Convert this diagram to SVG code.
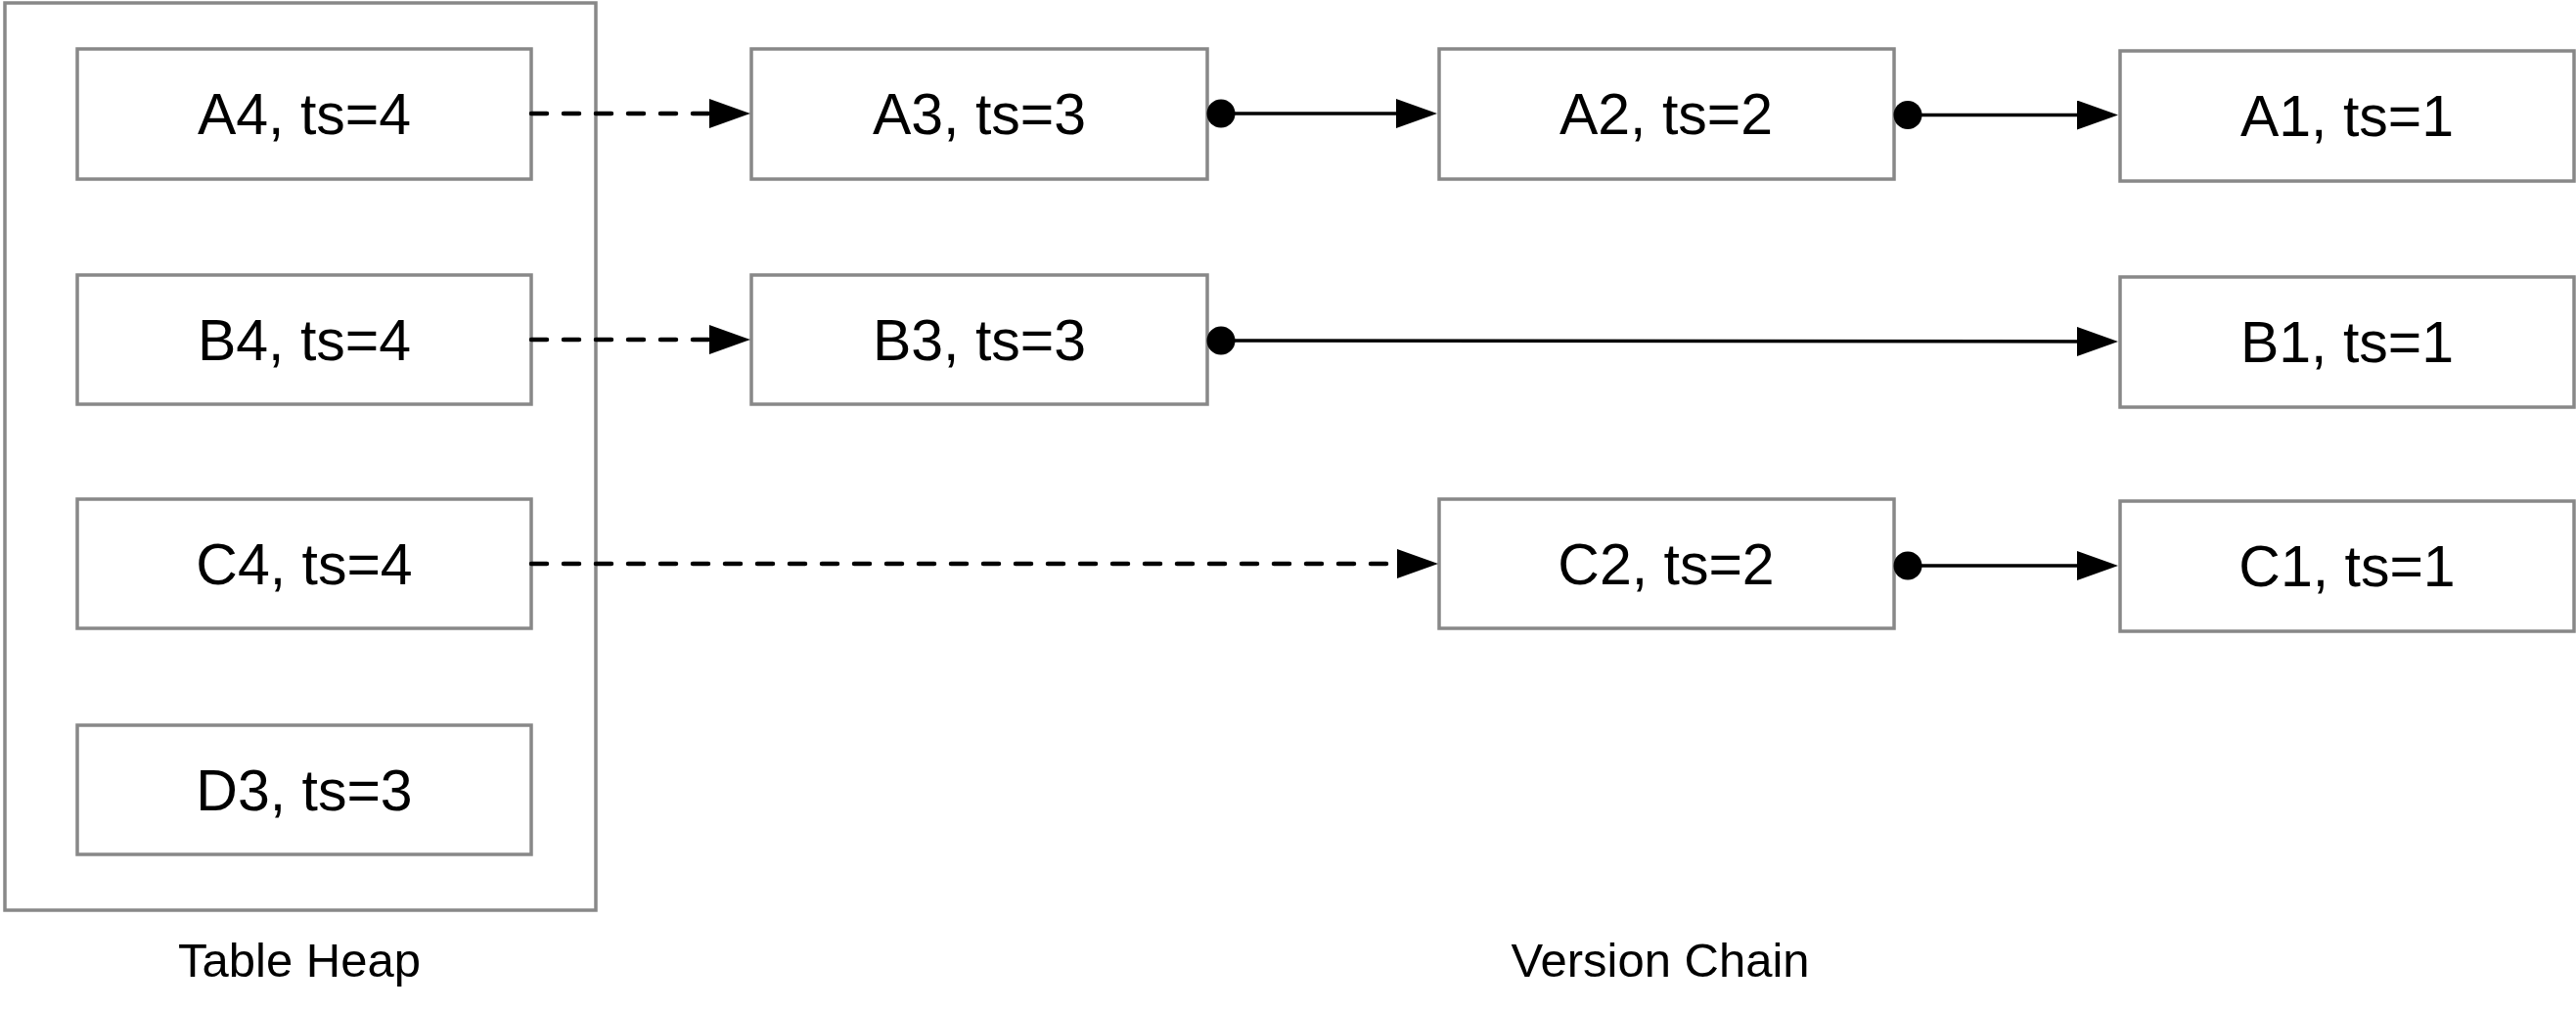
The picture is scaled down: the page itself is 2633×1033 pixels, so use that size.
<svg xmlns="http://www.w3.org/2000/svg" width="2633" height="1033" viewBox="0 0 2633 1033">
  <style>
    .box { fill: #ffffff; stroke: #888888; stroke-width: 3.5; }
    .lbl { font-family: "Liberation Sans", Arial, Helvetica, sans-serif; font-size: 59px; fill: #000000; text-anchor: middle; }
    .cap { font-family: "Liberation Sans", Arial, Helvetica, sans-serif; font-size: 49px; fill: #000000; text-anchor: middle; }
    .dash { fill: none; stroke: #000000; stroke-width: 4.5; stroke-dasharray: 16 17; stroke-linecap: round; }
    .solid { fill: none; stroke: #000000; stroke-width: 3.5; }
  </style>
  <defs>
    <marker id="arrow" markerUnits="userSpaceOnUse" markerWidth="42" markerHeight="30" viewBox="0 0 42 30" refX="32" refY="15" orient="auto">
      <path d="M0,0 L42,15 L0,30 Z" fill="#000000"/>
    </marker>
    <marker id="dot" markerUnits="userSpaceOnUse" markerWidth="30" markerHeight="30" viewBox="0 0 30 30" refX="15" refY="15" orient="auto">
      <circle cx="15" cy="15" r="14.5" fill="#000000"/>
    </marker>
  </defs>

  <g id="table-heap">
    <rect class="box" x="5" y="3" width="604" height="927"/>
    <text class="cap" x="306" y="998">Table Heap</text>
  </g>
  <text id="version-chain-label" class="cap" x="1697" y="998">Version Chain</text>

  <g id="A4"><rect class="box" x="79" y="50" width="464" height="133"/><text class="lbl" x="311" y="137">A4, ts=4</text></g>
  <g id="B4"><rect class="box" x="79" y="281" width="464" height="132"/><text class="lbl" x="311" y="368">B4, ts=4</text></g>
  <g id="C4"><rect class="box" x="79" y="510" width="464" height="132"/><text class="lbl" x="311" y="597">C4, ts=4</text></g>
  <g id="D3"><rect class="box" x="79" y="741" width="464" height="132"/><text class="lbl" x="311" y="828">D3, ts=3</text></g>

  <g id="A3"><rect class="box" x="768" y="50" width="466" height="133"/><text class="lbl" x="1001" y="137">A3, ts=3</text></g>
  <g id="B3"><rect class="box" x="768" y="281" width="466" height="132"/><text class="lbl" x="1001" y="368">B3, ts=3</text></g>

  <g id="A2"><rect class="box" x="1471" y="50" width="465" height="133"/><text class="lbl" x="1703" y="137">A2, ts=2</text></g>
  <g id="C2"><rect class="box" x="1471" y="510" width="465" height="132"/><text class="lbl" x="1703" y="597">C2, ts=2</text></g>

  <g id="A1"><rect class="box" x="2167" y="52" width="464" height="133"/><text class="lbl" x="2399" y="139">A1, ts=1</text></g>
  <g id="B1"><rect class="box" x="2167" y="283" width="464" height="133"/><text class="lbl" x="2399" y="370">B1, ts=1</text></g>
  <g id="C1"><rect class="box" x="2167" y="512" width="464" height="133"/><text class="lbl" x="2399" y="599">C1, ts=1</text></g>

  <g id="connectors">
    <line class="dash" x1="543" y1="116" x2="757" y2="116" marker-end="url(#arrow)"/>
    <line class="dash" x1="543" y1="347" x2="757" y2="347" marker-end="url(#arrow)"/>
    <line class="dash" x1="543" y1="576" x2="1460" y2="576" marker-end="url(#arrow)"/>
    <line class="solid" x1="1248" y1="116" x2="1459" y2="116" marker-start="url(#dot)" marker-end="url(#arrow)"/>
    <line class="solid" x1="1950" y1="117.5" x2="2155" y2="117.5" marker-start="url(#dot)" marker-end="url(#arrow)"/>
    <line class="solid" x1="1248" y1="348" x2="2155" y2="349" marker-start="url(#dot)" marker-end="url(#arrow)"/>
    <line class="solid" x1="1950" y1="578" x2="2155" y2="578" marker-start="url(#dot)" marker-end="url(#arrow)"/>
  </g>
</svg>
